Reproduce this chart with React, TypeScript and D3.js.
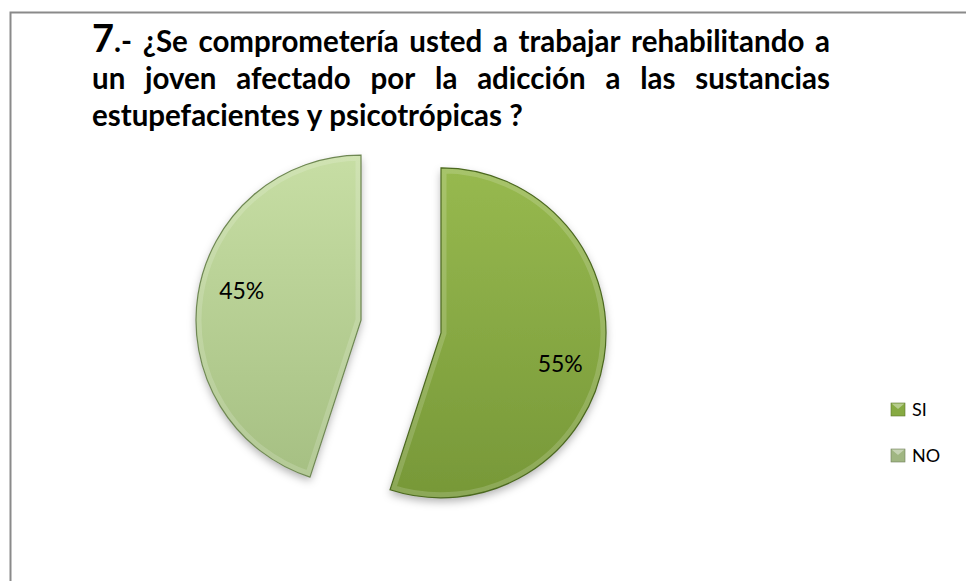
import React, { useEffect, useRef } from "react";
import * as d3 from "d3";

const WIDTH = 966;
const HEIGHT = 581;

const categories = ["SI", "NO"];
const values = [55, 45];
const titleLines = [
  "7.- ¿Se comprometería usted a trabajar rehabilitando a",
  "un joven afectado por la adicción a las sustancias",
  "estupefacientes y psicotrópicas ?",
];

const sliceTop = ["#97b94f", "#c7dea4"];
const sliceBottom = ["#779838", "#a5bf82"];
const sliceEdge = ["#4b681f", "#6e8752"];
const legendFill = ["#86aa42", "#a0b682"];

const FONT = "Lato, 'Open Sans', sans-serif";

const TITLE_LEFT = 92;
const TITLE_RIGHT = 830;
const TITLE_Y = 52;
const TITLE_STEP = 37;
const TITLE_SIZE = 29.5;

const PIE_CX = 401;
const PIE_CY = 326.5;
const RADIUS = 165;
const EXPLODE = 40.5;
const LABEL_R = 123;
const LABEL_SHIFT = 0.09;

export default function App() {
  const ref = useRef<SVGSVGElement>(null);

  useEffect(() => {
    const svg = d3.select(ref.current);
    svg.selectAll("*").remove();

    const defs = svg.append("defs");
    defs
      .append("filter")
      .attr("id", "shadow")
      .attr("x", "-20%")
      .attr("y", "-20%")
      .attr("width", "140%")
      .attr("height", "140%")
      .append("feDropShadow")
      .attr("dx", 0)
      .attr("dy", 4)
      .attr("stdDeviation", 4)
      .attr("flood-color", "#000")
      .attr("flood-opacity", 0.3);

    // frame
    svg
      .append("rect")
      .attr("x", 10.5)
      .attr("y", 12.5)
      .attr("width", 1000)
      .attr("height", 1000)
      .attr("fill", "white")
      .attr("stroke", "#8a8a8a")
      .attr("stroke-width", 2);

    // title, justified word by word
    const title = svg
      .append("g")
      .attr("font-family", FONT)
      .attr("font-weight", "bold")
      .attr("font-size", TITLE_SIZE)
      .attr("fill", "#000");

    titleLines.forEach((line, li) => {
      const words = line.split(" ");
      const y = TITLE_Y + li * TITLE_STEP;
      const nodes = words.map((w, wi) => {
        const t = title.append("text").attr("y", y);
        if (li === 0 && wi === 0) {
          t.append("tspan").attr("font-size", 38).text(w.slice(0, 1));
          t.append("tspan").text(w.slice(1));
        } else {
          t.text(w);
        }
        return t;
      });
      const widths = nodes.map((n) => (n.node() as SVGTextElement).getComputedTextLength());
      const total = d3.sum(widths);
      const justify = li < titleLines.length - 1;
      const gap = justify ? (TITLE_RIGHT - TITLE_LEFT - total) / (words.length - 1) : TITLE_SIZE * 0.24;
      let x = TITLE_LEFT;
      nodes.forEach((n, i) => {
        n.attr("x", x);
        x += widths[i] + gap;
      });
    });

    // pie
    const pie = d3.pie<number>().sort(null).startAngle(0).endAngle(2 * Math.PI);
    const arcs = pie(values);
    const arc = d3.arc<d3.PieArcDatum<number>>().innerRadius(0).outerRadius(RADIUS);

    arcs.forEach((a, i) => {
      const mid = (a.startAngle + a.endAngle) / 2;
      const gx = PIE_CX + Math.sin(mid) * EXPLODE;
      const gy = PIE_CY - Math.cos(mid) * EXPLODE;
      const g = svg.append("g").attr("transform", `translate(${gx},${gy})`);

      const grad = defs
        .append("linearGradient")
        .attr("id", `grad${i}`)
        .attr("gradientUnits", "userSpaceOnUse")
        .attr("x1", 0)
        .attr("y1", -RADIUS)
        .attr("x2", 0)
        .attr("y2", RADIUS);
      grad.append("stop").attr("offset", 0).attr("stop-color", sliceTop[i]);
      grad.append("stop").attr("offset", 1).attr("stop-color", sliceBottom[i]);

      defs
        .append("clipPath")
        .attr("id", `clip${i}`)
        .append("path")
        .attr("d", arc(a) as string);

      g.append("path")
        .attr("d", arc(a) as string)
        .attr("fill", `url(#grad${i})`)
        .attr("filter", "url(#shadow)");

      // bevel highlight
      g.append("path")
        .attr("d", arc(a) as string)
        .attr("fill", "none")
        .attr("stroke", "#ffffff")
        .attr("stroke-opacity", 0.16)
        .attr("stroke-width", 11)
        .attr("clip-path", `url(#clip${i})`);

      g.append("path")
        .attr("d", arc(a) as string)
        .attr("fill", "none")
        .attr("stroke", sliceEdge[i])
        .attr("stroke-width", 1.2);

      const la = mid + LABEL_SHIFT;
      g.append("text")
        .attr("x", Math.sin(la) * LABEL_R)
        .attr("y", -Math.cos(la) * LABEL_R)
        .attr("text-anchor", "middle")
        .attr("dominant-baseline", "central")
        .attr("font-family", FONT)
        .attr("font-size", 23)
        .attr("fill", "#000")
        .text(d3.format(".0%")(a.value / d3.sum(values)));
    });

    // legend
    const legend = svg.append("g").attr("font-family", FONT).attr("font-size", 18);
    categories.forEach((c, i) => {
      const y = 403 + i * 46;
      legend
        .append("rect")
        .attr("x", 891)
        .attr("y", y)
        .attr("width", 14)
        .attr("height", 13)
        .attr("fill", legendFill[i])
        .attr("stroke", d3.color(legendFill[i])!.darker(1).toString())
        .attr("stroke-width", 0.6);
      legend
        .append("path")
        .attr("d", `M${891.5},${y + 0.5}L${904.5},${y + 0.5}L${898},${y + 6}Z`)
        .attr("fill", "#ffffff")
        .attr("fill-opacity", 0.4);
      legend
        .append("text")
        .attr("x", 912)
        .attr("y", y + 13)
        .attr("fill", "#000")
        .text(c);
    });
  }, []);

  return (
    <div style={{ position: "absolute", left: 0, top: 0 }}>
      <svg ref={ref} width={WIDTH} height={HEIGHT} />
    </div>
  );
}
